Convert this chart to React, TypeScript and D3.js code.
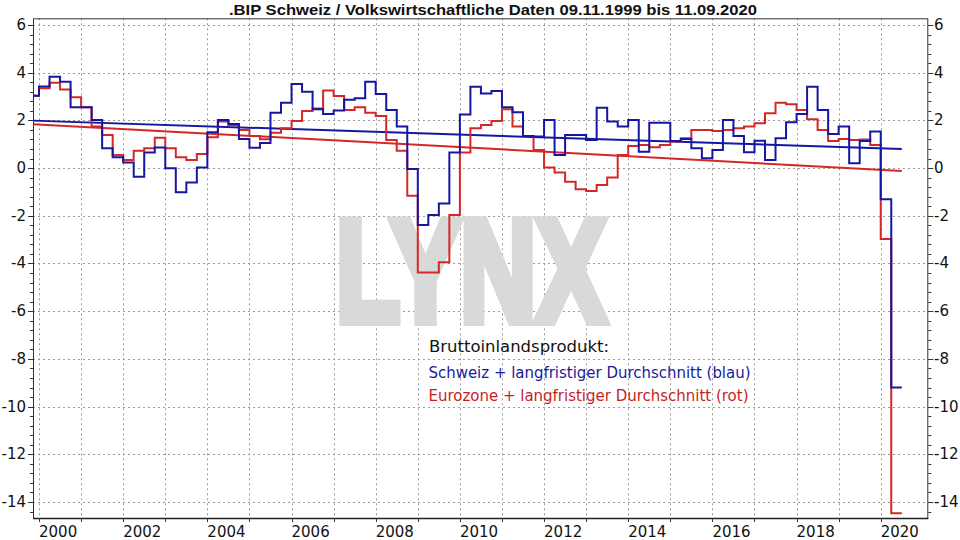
import React from "react";
import * as d3 from "d3";

// ---- data ----
const startDate = 1999.857; // 09.11.1999
const endDate = 2020.5;
const firstYear = 1999;
const firstQuarter = 4;

// Schweiz BIP (YoY %), quarterly from 1999Q4 to 2020Q2
const schweiz = [
  3.03, 3.42, 3.83, 3.62, 2.55, 2.55, 2.02, 0.83, 0.45, 0.23, -0.36, 0.65, 0.86,
  -0.01, -1.01, -0.6, 0.02, 1.5, 2.02, 1.85, 1.22, 0.85, 1.05, 2.32, 2.74, 3.53,
  3.2, 2.47, 2.27, 2.41, 2.86, 2.93, 3.62, 3.11, 2.44, 1.74, -0.04, -2.39, -1.97,
  -1.48, 0.65, 2.25, 3.41, 3.13, 3.23, 2.55, 2.34, 1.35, 1.32, 2.02, 0.55, 1.39,
  1.39, 1.18, 2.53, 1.95, 1.74, 2.02, 0.69, 1.9, 1.9, 1.14, 1.22, 0.83, 0.41,
  0.76, 2.02, 1.35, 0.66, 1.15, 0.34, 1.25, 1.92, 2.27, 3.41, 2.44, 1.43, 1.74,
  0.2, 1.14, 1.53, -1.31, -9.2,
];

// Eurozone BIP (YoY %), quarterly from 1999Q4 to 2020Q2
const eurozone = [
  3.03, 3.35, 3.58, 3.3, 2.97, 2.55, 1.74, 1.39, 0.55, 0.34, 0.73, 0.83, 1.27,
  0.83, 0.45, 0.34, 0.59, 1.29, 1.95, 1.8, 1.6, 1.35, 1.21, 1.48, 1.67, 1.97,
  2.39, 2.5, 3.25, 3.02, 2.44, 2.55, 2.32, 2.18, 1.18, 0.73, -1.16, -4.38, -4.38,
  -3.95, -1.97, 0.65, 1.67, 1.81, 1.97, 2.47, 1.74, 1.35, 0.76, 0.03, -0.19,
  -0.57, -0.89, -0.96, -0.71, -0.39, 0.55, 0.93, 0.97, 0.87, 0.97, 1.11, 1.25,
  1.6, 1.6, 1.55, 1.6, 1.67, 1.74, 1.88, 2.3, 2.74, 2.68, 2.44, 2.05, 1.6, 1.14,
  1.22, 1.18, 1.2, 0.97, -2.97, -14.47,
];

// langfristiger Durchschnitt (start, end)
const schweizTrend = [1.99, 0.8];
const eurozoneTrend = [1.84, -0.12];

const yTicks = [6, 4, 2, 0, -2, -4, -6, -8, -10, -12, -14];
const xYears = d3.range(2000, 2021);
const xLabelYears = [2000, 2002, 2004, 2006, 2008, 2010, 2012, 2014, 2016, 2018, 2020];

const title = ".BIP Schweiz / Volkswirtschaftliche Daten 09.11.1999 bis 11.09.2020";
const legendTitle = "Bruttoinlandsprodukt:";
const legendCH = "Schweiz + langfristiger Durchschnitt (blau)";
const legendEZ = "Eurozone + langfristiger Durchschnitt (rot)";
const watermark = "LYNX";

// ---- layout ----
const W = 960;
const H = 540;
const L = 33;
const R = 928.3;
const T = 18.3;
const B = 518;

const BLUE = "#1616a4";
const RED = "#d42828";
const FONT = "'DejaVu Sans', Verdana, sans-serif";

function quarterStart(i: number): number {
  if (i === 0) return startDate;
  const q = firstQuarter - 1 + i; // quarters since firstYear Q1
  return firstYear + q / 4;
}

export default function App() {
  const x = d3.scaleLinear().domain([startDate, 2021.13]).range([L, R]);
  const y = d3.scaleLinear().domain([-14.67, 6.28]).range([B, T]);

  const stepLine = d3
    .line<[number, number]>()
    .x((d) => x(d[0]))
    .y((d) => y(d[1]))
    .curve(d3.curveStepAfter);

  const toPts = (vals: number[]): [number, number][] => {
    const pts: [number, number][] = vals.map((v, i) => [quarterStart(i), v]);
    pts.push([endDate, vals[vals.length - 1]]);
    return pts;
  };

  const trendLine = d3
    .line<[number, number]>()
    .x((d) => x(d[0]))
    .y((d) => y(d[1]));

  const minorTicks = d3.range(-14.4, 6.2, 0.4).map((v) => Math.round(v * 10) / 10);

  return (
    <svg
      width={W}
      height={H}
      style={{ position: "absolute", left: 0, top: 0, background: "#fff" }}
    >
      <rect x={0} y={0} width={W} height={H} fill="#fff" />
      {/* title */}
      <text
        x={493}
        y={14.5}
        textAnchor="middle"
        fontFamily="'Liberation Sans', Arial, sans-serif"
        fontWeight="bold"
        fontSize={15.5}
        textLength={528}
        lengthAdjust="spacingAndGlyphs"
        fill="#111"
      >
        {title}
      </text>

      {/* grid */}
      <g stroke="#9a9a9a" strokeWidth={1} strokeDasharray="2,3">
        {yTicks.map((t) => (
          <line key={"gy" + t} x1={L} x2={R} y1={Math.round(y(t)) + 0.5} y2={Math.round(y(t)) + 0.5} />
        ))}
        {xYears.map((yr) => (
          <line key={"gx" + yr} x1={Math.round(x(yr)) + 0.5} x2={Math.round(x(yr)) + 0.5} y1={T} y2={B} />
        ))}
      </g>

      {/* watermark */}
      <text
        x={336}
        y={321}
        fontFamily="'Liberation Sans', Arial, sans-serif"
        fontWeight="bold"
        fontSize={144}
        textLength={270}
        lengthAdjust="spacingAndGlyphs"
        fill="#d9d9d9"
        stroke="#d9d9d9"
        strokeWidth={10}
        strokeLinejoin="miter"
      >
        {watermark}
      </text>

      {/* trend lines */}
      <path
        d={trendLine([[startDate, eurozoneTrend[0]], [endDate, eurozoneTrend[1]]]) || ""}
        fill="none"
        stroke={RED}
        strokeWidth={2}
      />
      <path
        d={trendLine([[startDate, schweizTrend[0]], [endDate, schweizTrend[1]]]) || ""}
        fill="none"
        stroke={BLUE}
        strokeWidth={2}
      />

      {/* step series */}
      <path d={stepLine(toPts(eurozone)) || ""} fill="none" stroke={RED} strokeWidth={2} />
      <path d={stepLine(toPts(schweiz)) || ""} fill="none" stroke={BLUE} strokeWidth={2} />

      {/* frame */}
      <rect x={L + 0.5} y={T + 0.5} width={R - L - 1} height={B - T} fill="none" stroke="#333" strokeWidth={1} />
      <line x1={L} x2={R} y1={B + 0.5} y2={B + 0.5} stroke="#222" strokeWidth={1.5} />

      {/* y ticks */}
      <g stroke="#333" strokeWidth={1}>
        {minorTicks.map((v) => (
          <g key={"mt" + v}>
            <line x1={L - 3} x2={L} y1={Math.round(y(v)) + 0.5} y2={Math.round(y(v)) + 0.5} />
            <line x1={R} x2={R + 3} y1={Math.round(y(v)) + 0.5} y2={Math.round(y(v)) + 0.5} />
          </g>
        ))}
        {yTicks.map((t) => (
          <g key={"yt" + t}>
            <line x1={L - 5} x2={L} y1={Math.round(y(t)) + 0.5} y2={Math.round(y(t)) + 0.5} />
            <line x1={R} x2={R + 5} y1={Math.round(y(t)) + 0.5} y2={Math.round(y(t)) + 0.5} />
          </g>
        ))}
        {xYears.map((yr) => (
          <line key={"xt" + yr} x1={Math.round(x(yr)) + 0.5} x2={Math.round(x(yr)) + 0.5} y1={B} y2={B + 4} />
        ))}
      </g>

      {/* y labels */}
      <g fontFamily={FONT} fontSize={15} fill="#111">
        {yTicks.map((t) => (
          <text key={"yl" + t} x={26} y={y(t)} textAnchor="end" dominantBaseline="central">
            {t}
          </text>
        ))}
        {yTicks.map((t) => (
          <text key={"yr" + t} x={934} y={y(t)} textAnchor="start" dominantBaseline="central">
            {t}
          </text>
        ))}
        {xLabelYears.map((yr) => (
          <text key={"xl" + yr} x={x(yr)} y={536.5} textAnchor="start">
            {yr}
          </text>
        ))}
      </g>

      {/* legend */}
      <g fontFamily={FONT} fontSize={16}>
        <text x={429} y={352} fill="#111" textLength={180} lengthAdjust="spacingAndGlyphs">
          {legendTitle}
        </text>
        <text x={428.5} y={377.5} fill="#1a1a9a" textLength={322} lengthAdjust="spacingAndGlyphs">
          {legendCH}
        </text>
        <text x={428.5} y={400.5} fill="#c81e1e" textLength={320} lengthAdjust="spacingAndGlyphs">
          {legendEZ}
        </text>
      </g>
    </svg>
  );
}
